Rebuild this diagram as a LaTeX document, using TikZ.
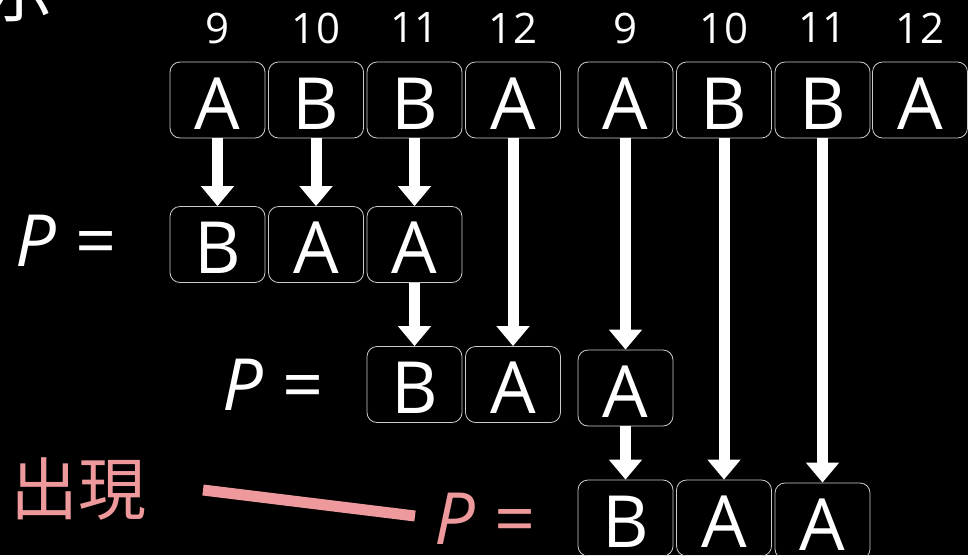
\documentclass[tikz,border=0pt]{standalone}
\usepackage{fontspec}
\setmainfont{Open Sans}
\newfontfamily\cjkfont{Noto Sans CJK JP}
\usetikzlibrary{calc,arrows.meta}
\definecolor{salmon}{RGB}{238,153,156}

\begin{document}
\begin{tikzpicture}[x=1pt,y=-1pt]
\tikzset{
% Letter cells, indices, labels and the shift arrows
cell/.style={draw=white!80!black,line width=0.8pt,rounded corners=10pt,minimum width=95pt,minimum height=76pt,inner sep=0pt,text height=58pt,text depth=0pt,text=white,font=\fontsize{72}{72}\selectfont},
idx/.style={text=white,font=\fontsize{42}{42}\selectfont},
lbl/.style={text=white,font=\fontsize{72}{72}\selectfont},
push/.style={white,line width=11pt,-{Triangle[width=32pt,length=20pt]}}
}
\fill[black] (0,0) rectangle (968,555);
\clip (0,0) rectangle (968,555);

% Top row: the text with its positions
\node(t1)[cell] at (217.5,100) {A};
\node(t2)[cell] at (316,100) {B};
\node(t3)[cell] at (414.5,100) {B};
\node(t4)[cell] at (513,100) {A};
\node(t5)[cell] at (625.5,100) {A};
\node(t6)[cell] at (724,100) {B};
\node(t7)[cell] at (822.5,100) {B};
\node(t8)[cell] at (920,100) {A};
\foreach \n/\k in {t1/9,t2/10,t3/11,t4/12,t5/9,t6/10,t7/11,t8/12}
  \node(i\n)[idx] at ($(\n.center)+(0,-72)$) {\k};

% Pattern at its three shifts
\node(p1)[lbl] at (66,241) {\textit{P} =};
\node(a1)[cell] at (217.5,244.5) {B};
\node(a2)[cell] at (316,244.5) {A};
\node(a3)[cell] at (414.5,244.5) {A};

\node(p2)[lbl] at (273,385) {\textit{P} =};
\node(b1)[cell] at (414.5,384.5) {B};
\node(b2)[cell] at (513,384.5) {A};
\node(b3)[cell] at (625.5,388) {A};

\node(p3)[lbl,text=salmon] at (485,519) {\textit{P} =};
\node(c1)[cell] at (625.5,518) {B};
\node(c2)[cell] at (724,518) {A};
\node(c3)[cell] at (822.5,521) {A};

% Arrows
\draw[push] (t1.south) -- (a1.north);
\draw[push] (t2.south) -- (a2.north);
\draw[push] (t3.south) -- (a3.north);
\draw[push] (t4.south) -- (b2.north);
\draw[push] (a3.south) -- (b1.north);
\draw[push] (t5.south) -- (b3.north);
\draw[push] (b3.south) -- (c1.north);
\draw[push] (t6.south) -- (c2.north);
\draw[push] (t7.south) -- (c3.north);

% Notes at the left edge
\node(top)[text=white,font=\cjkfont\fontsize{68}{68}\selectfont] at (20,-7) {示};
\node(note)[text=salmon,font=\cjkfont\fontsize{68}{68}\selectfont] at (78,489) {出現};
\coordinate (s) at (203,490);
\coordinate (e) at (415,516);
\draw[salmon,line width=11pt] (s) -- (e);
\end{tikzpicture}
\end{document}
